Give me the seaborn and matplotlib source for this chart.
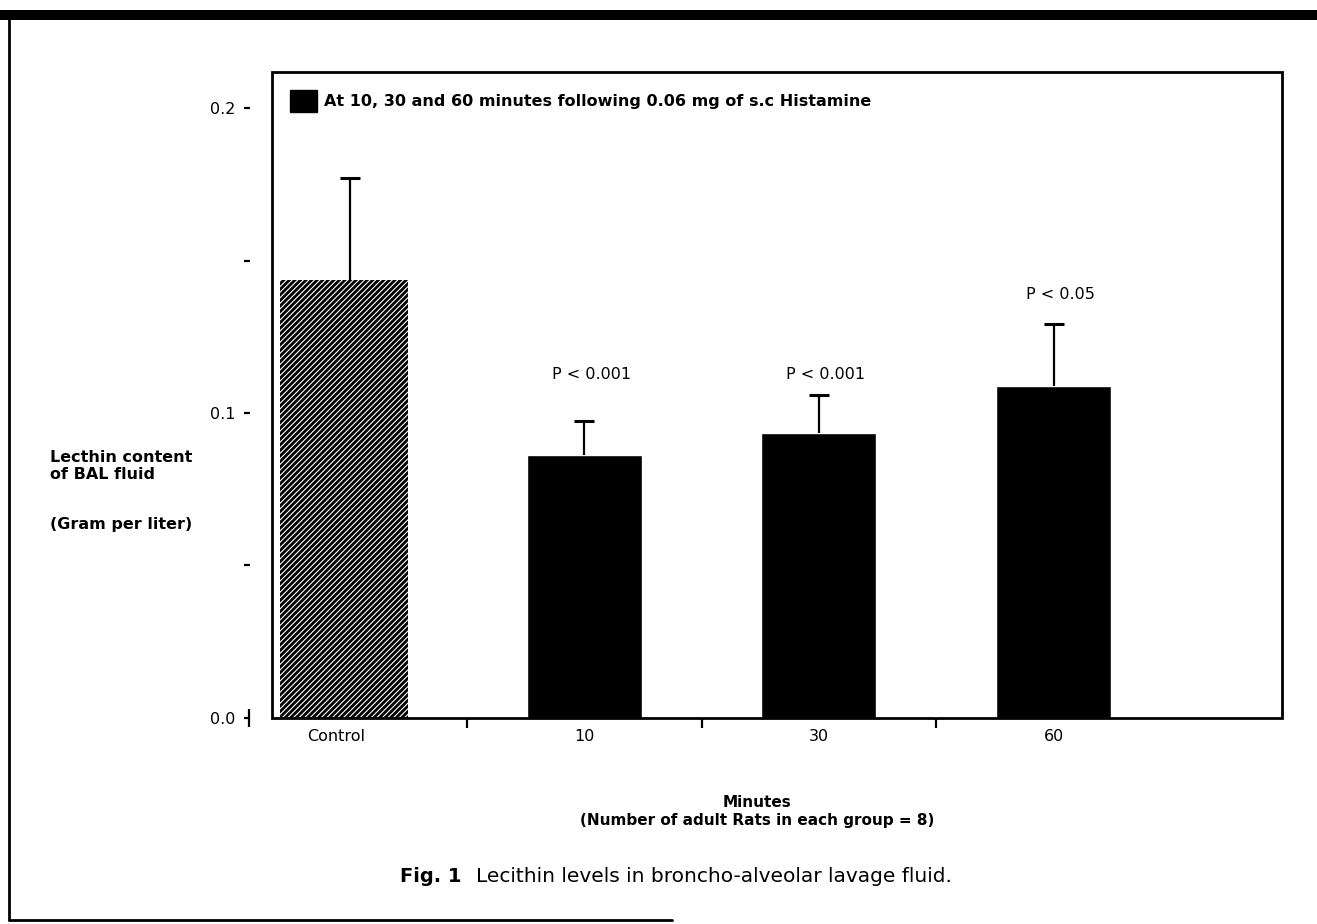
import pandas as pd
import seaborn as sns
import matplotlib.pyplot as plt
from matplotlib.patches import Patch, Rectangle
from matplotlib.lines import Line2D
from matplotlib.transforms import ScaledTranslation

# ---- data ----
groups = ['Control', '10', '30', '60']
lecithin = [0.1436, 0.0862, 0.0934, 0.1089]
err_up = [0.0334, 0.0112, 0.0125, 0.0203]
p_labels = ['', 'P < 0.001', 'P < 0.001', 'P < 0.05']
p_y = [0.0, 0.1125, 0.1125, 0.1387]

df = pd.DataFrame({'group': groups, 'value': lecithin})

sns.set_theme(style='white')
plt.rcParams['font.family'] = ['DejaVu Sans']
plt.rcParams['hatch.linewidth'] = 0.8
plt.rcParams['text.color'] = 'black'
plt.rcParams['axes.labelcolor'] = 'black'

fig = plt.figure(figsize=(13.17, 9.24), dpi=100)
ax = fig.add_axes([0.2065, 0.223, 0.767, 0.699])

sns.barplot(data=df, x='group', y='value', hue='group', palette=['black'] * 4,
            width=0.49, legend=False, ax=ax, errorbar=None, saturation=1)

# control bar: black with white diagonal hatching, a bit wider
ctrl = ax.patches[0]
ctrl.set_hatch('//////')
ctrl.set_edgecolor('white')
ctrl.set_linewidth(0)
ctrl.set_x(-0.295)
ctrl.set_width(0.545)

eb = ax.errorbar(range(len(groups)), lecithin, yerr=[[0] * 4, err_up], fmt='none',
                 ecolor='black', elinewidth=1.6, capsize=7, capthick=2.2)
eb[1][0].set_visible(False)  # no cap at the bar top

for i, (lab, y) in enumerate(zip(p_labels, p_y)):
    if lab:
        ax.text(i + 0.03, y, lab, ha='center', va='center', fontsize=11.5, color='black')

ax.set_xlim(-0.331, 3.974)
ax.set_ylim(0, 0.2118)

# box around the plot area
for s in ax.spines.values():
    s.set_visible(False)
ax.add_patch(Rectangle((0, 0), 1, 1, transform=ax.transAxes, fill=False,
                       edgecolor='black', linewidth=2, clip_on=False, zorder=5))

# y ticks sit a little left of the box
ax.spines['left'].set_position(('outward', 16))
ax.set_yticks([0.0, 0.05, 0.1, 0.15, 0.2])
ax.set_yticklabels(['0.0', '', '0.1', '', '0.2'])
ax.tick_params(axis='y', left=True, direction='out', length=4.5, width=1.6,
               pad=6, labelsize=11.5, colors='black')
# the little vertical bar next to 0.0
ax.plot([0], [0], marker='|', markersize=13, mew=1.6, color='black', clip_on=False,
        transform=ax.transAxes + ScaledTranslation(-0.225, 0, fig.dpi_scale_trans))

# x: category labels without ticks, separators as minor ticks
ax.set_xticks(range(len(groups)))
ax.set_xticklabels(groups)
ax.set_xticks([0.5, 1.5, 2.5], minor=True)
ax.tick_params(axis='x', which='major', bottom=False, length=0, pad=8, labelsize=11.5,
               colors='black')
ax.tick_params(axis='x', which='minor', bottom=True, direction='out', length=7, width=1.6,
               color='black')
ctrl_lab = ax.get_xticklabels()[0]
ctrl_lab.set_transform(ctrl_lab.get_transform() + ScaledTranslation(-0.14, 0, fig.dpi_scale_trans))

ax.set_xlabel('Minutes\n(Number of adult Rats in each group = 8)', fontsize=11,
              fontweight='bold', labelpad=37, linespacing=1.25)
ax.xaxis.label.set_x(0.48)
ax.set_ylabel('')

fig.text(50 / 1317, 1 - 450 / 924, 'Lecthin content\nof BAL fluid',
         ha='left', va='top', fontsize=11.5, fontweight='bold', linespacing=1.2)
fig.text(50 / 1317, 1 - 525 / 924, '(Gram per liter)',
         ha='left', va='center', fontsize=11.5, fontweight='bold')

ax.legend(handles=[Patch(facecolor='black', edgecolor='black')],
          labels=['At 10, 30 and 60 minutes following 0.06 mg of s.c Histamine'],
          loc='upper left', frameon=False, handlelength=1.7, handleheight=1.8,
          handletextpad=0.45, borderaxespad=0.7, prop={'weight': 'bold', 'size': 11.5})

fig.text(400 / 1317, 1 - 876 / 924, 'Fig. 1', fontsize=14, fontweight='bold', va='center')
fig.text(476 / 1317, 1 - 876 / 924, 'Lecithin levels in broncho-alveolar lavage fluid.',
         fontsize=14.5, va='center')

# outer frame of the scanned figure
fig.add_artist(Rectangle((0, 1 - 20 / 924), 1, 10 / 924, transform=fig.transFigure,
                         color='black', lw=0))
fig.add_artist(Line2D([9 / 1317, 9 / 1317], [1 - 14 / 924, 1 - 920 / 924],
                      transform=fig.transFigure, color='black', lw=2))
fig.add_artist(Line2D([9 / 1317, 672 / 1317], [1 - 920 / 924, 1 - 920 / 924],
                      transform=fig.transFigure, color='black', lw=2))

fig.savefig('out.png', dpi=100, facecolor='white')
